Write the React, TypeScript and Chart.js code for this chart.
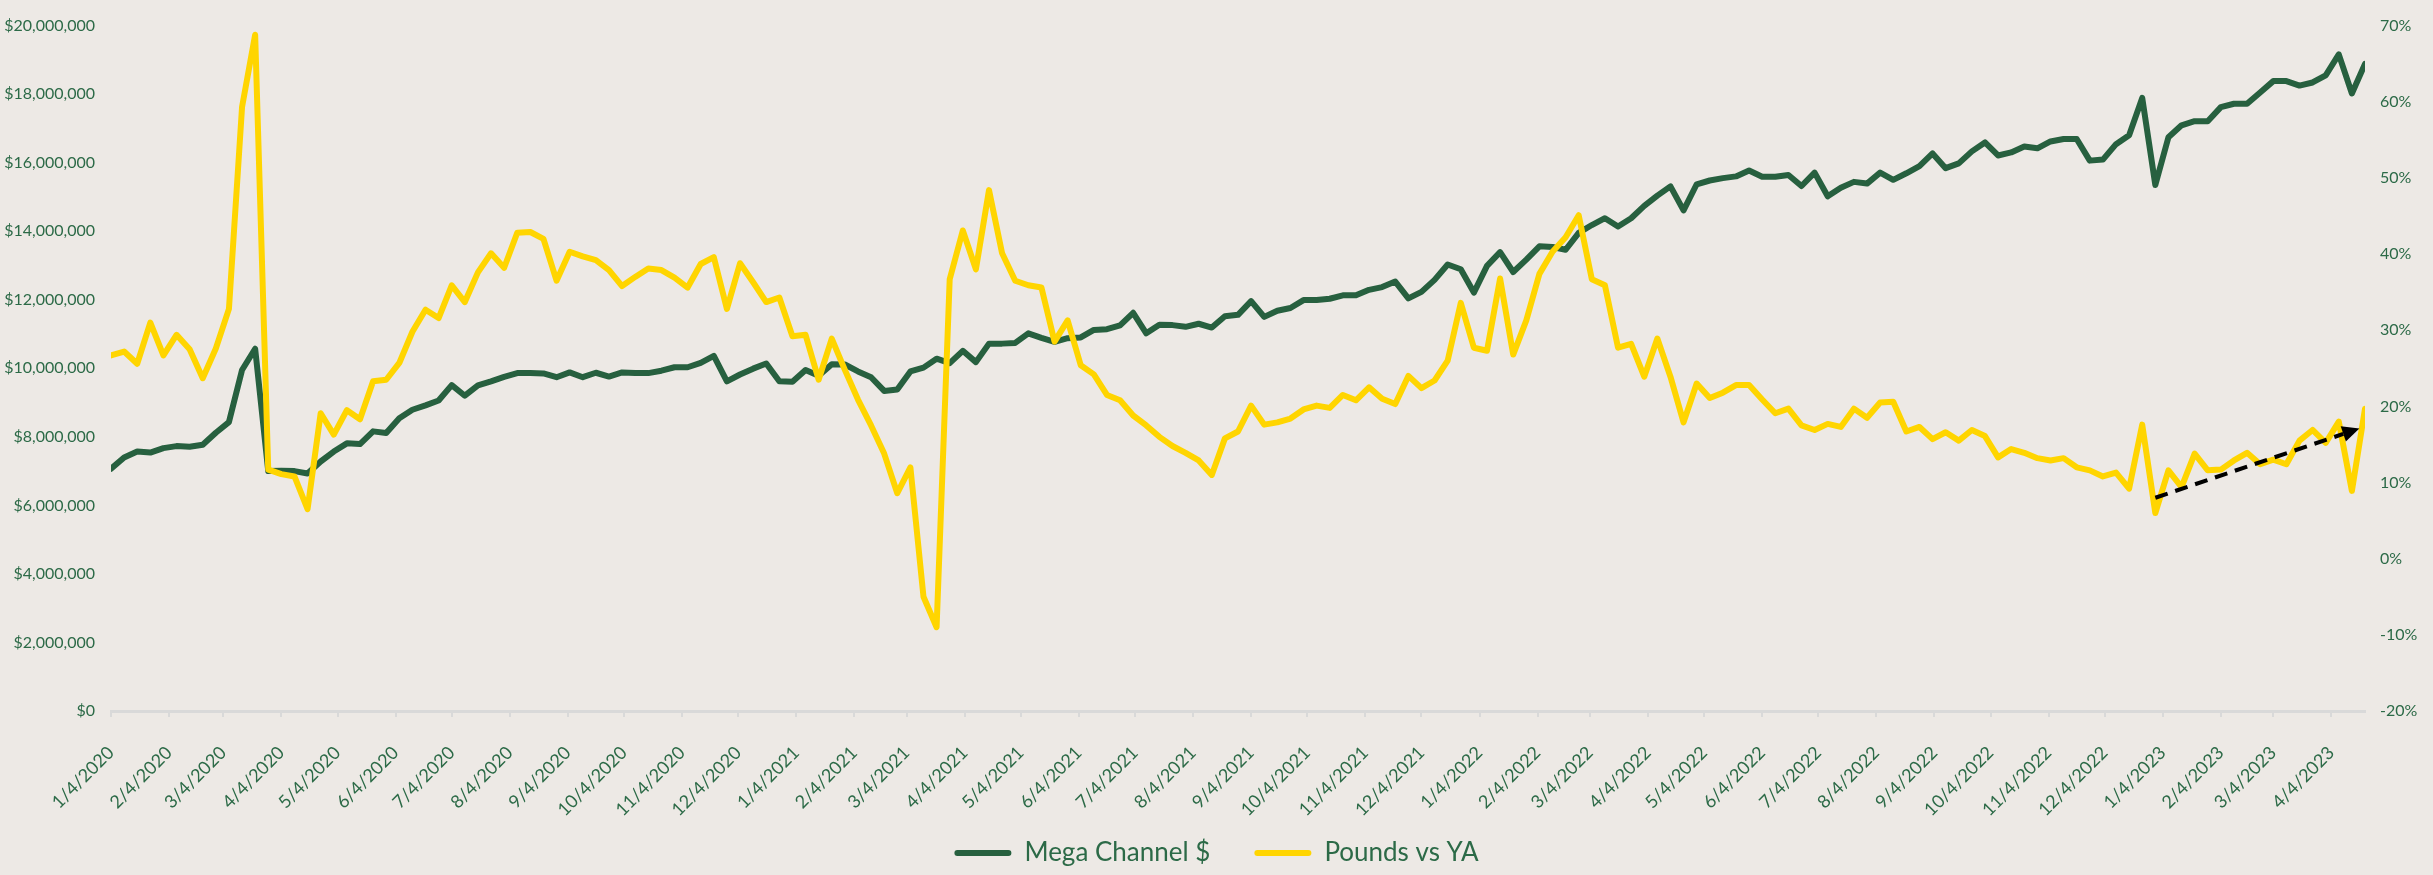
import React, { useEffect, useRef } from 'react';
import { Chart, registerables } from 'chart.js';

Chart.register(...registerables);

// ---------- DATA ----------
const FIRST_WEEK = '1/4/2020';
const WEEK_COUNT = 173;

// Mega Channel $ (millions of dollars), weekly
const megaChannel: number[] = [
  7.07, 7.40, 7.57, 7.54, 7.67, 7.73, 7.71, 7.77, 8.12, 8.43,
  9.95, 10.57, 7.00, 7.01, 7.00, 6.93, 7.28, 7.57, 7.81, 7.79,
  8.16, 8.11, 8.54, 8.79, 8.92, 9.06, 9.51, 9.20, 9.50, 9.62,
  9.75, 9.86, 9.86, 9.85, 9.74, 9.88, 9.74, 9.87, 9.76, 9.88,
  9.86, 9.86, 9.93, 10.03, 10.03, 10.16, 10.36, 9.62, 9.82, 9.99,
  10.14, 9.62, 9.61, 9.95, 9.78, 10.12, 10.11, 9.91, 9.74, 9.34,
  9.38, 9.91, 10.02, 10.28, 10.15, 10.51, 10.18, 10.72, 10.72, 10.74,
  11.02, 10.89, 10.77, 10.88, 10.90, 11.12, 11.14, 11.25, 11.62, 11.02,
  11.27, 11.26, 11.21, 11.30, 11.19, 11.52, 11.56, 11.96, 11.50, 11.68,
  11.76, 11.99, 11.99, 12.03, 12.13, 12.13, 12.29, 12.37, 12.53, 12.04,
  12.23, 12.58, 13.03, 12.89, 12.21, 12.99, 13.39, 12.81, 13.17, 13.56,
  13.54, 13.46, 13.95, 14.18, 14.38, 14.14, 14.38, 14.74, 15.04, 15.31,
  14.61, 15.37, 15.48, 15.55, 15.60, 15.77, 15.59, 15.59, 15.64, 15.32,
  15.71, 15.02, 15.27, 15.44, 15.39, 15.71, 15.50, 15.69, 15.90, 16.27,
  15.84, 15.98, 16.33, 16.59, 16.21, 16.30, 16.47, 16.42, 16.62, 16.69,
  16.69, 16.06, 16.09, 16.54, 16.80, 17.89, 15.35, 16.74, 17.09, 17.21,
  17.21, 17.62, 17.72, 17.72, 18.05, 18.38, 18.38, 18.25, 18.34, 18.55,
  19.16, 18.02, 18.88,
];

// Pounds vs YA (percent), weekly
const poundsVsYA: number[] = [
  26.7, 27.2, 25.6, 31.0, 26.7, 29.4, 27.5, 23.7, 27.6, 32.8,
  59.3, 68.8, 11.7, 11.1, 10.8, 6.5, 19.1, 16.3, 19.5, 18.3,
  23.3, 23.5, 25.7, 29.8, 32.7, 31.6, 35.9, 33.7, 37.6, 40.1,
  38.2, 42.8, 42.9, 42.0, 36.5, 40.3, 39.7, 39.2, 37.9, 35.8,
  37.0, 38.1, 37.9, 36.9, 35.6, 38.7, 39.6, 32.8, 38.8, 36.3,
  33.7, 34.3, 29.2, 29.4, 23.5, 28.9, 24.8, 20.9, 17.5, 13.8,
  8.6, 12.0, -5.0, -9.0, 36.7, 43.1, 38.0, 48.4, 40.1, 36.5,
  35.9, 35.6, 28.5, 31.3, 25.4, 24.2, 21.5, 20.8, 18.8, 17.5,
  16.0, 14.8, 13.9, 12.9, 11.0, 15.8, 16.7, 20.1, 17.6, 17.9,
  18.4, 19.6, 20.1, 19.8, 21.5, 20.8, 22.5, 21.0, 20.3, 24.0,
  22.4, 23.4, 26.0, 33.6, 27.7, 27.3, 36.8, 26.8, 31.3, 37.4,
  40.3, 42.2, 45.1, 36.7, 35.9, 27.7, 28.2, 23.9, 28.9, 23.9,
  17.9, 23.0, 21.1, 21.8, 22.8, 22.8, 20.9, 19.1, 19.7, 17.5,
  16.9, 17.7, 17.3, 19.7, 18.5, 20.5, 20.6, 16.7, 17.3, 15.7,
  16.6, 15.5, 16.9, 16.1, 13.3, 14.4, 13.9, 13.2, 12.9, 13.2,
  12.0, 11.6, 10.8, 11.3, 9.2, 17.6, 6.0, 11.6, 9.4, 13.8,
  11.6, 11.7, 12.9, 13.9, 12.4, 13.0, 12.4, 15.5, 16.9, 15.2,
  18.0, 8.9, 19.7,
];

// x-axis tick labels (monthly)
const tickLabels: string[] = [
  '1/4/2020', '2/4/2020', '3/4/2020', '4/4/2020', '5/4/2020', '6/4/2020',
  '7/4/2020', '8/4/2020', '9/4/2020', '10/4/2020', '11/4/2020', '12/4/2020',
  '1/4/2021', '2/4/2021', '3/4/2021', '4/4/2021', '5/4/2021', '6/4/2021',
  '7/4/2021', '8/4/2021', '9/4/2021', '10/4/2021', '11/4/2021', '12/4/2021',
  '1/4/2022', '2/4/2022', '3/4/2022', '4/4/2022', '5/4/2022', '6/4/2022',
  '7/4/2022', '8/4/2022', '9/4/2022', '10/4/2022', '11/4/2022', '12/4/2022',
  '1/4/2023', '2/4/2023', '3/4/2023', '4/4/2023',
];

// trend arrow annotation: [week date, percent]
const arrowFrom: [string, number] = ['12/31/2022', 8.0];
const arrowTo: [string, number] = ['4/19/2023', 17.1];

// ---------- HELPERS ----------
const DAY_MS = 86400000;
const parseDate = (s: string) => {
  const [m, d, y] = s.split('/').map(Number);
  return Date.UTC(y, m - 1, d);
};
const ORIGIN = parseDate(FIRST_WEEK);
const dayOf = (s: string) => Math.round((parseDate(s) - ORIGIN) / DAY_MS);

// weekly category days (0, 7, 14, ...)
const weekDays: number[] = Array.from({ length: WEEK_COUNT }, (_, i) => i * 7);
const tickDays = tickLabels.map(dayOf);
const labelByDay: Record<number, string> = {};
tickLabels.forEach((l, i) => (labelByDay[tickDays[i]] = l));

const GREEN = '#27603F';
const YELLOW = '#FFD500';
const TEXT = '#2C6A47';
const AXIS = '#D9D9D9';
const BG = '#EDE9E5';
const FONT = 'Lato';

const bgPlugin = {
  id: 'bg',
  beforeDraw(chart: any) {
    const { ctx, width, height } = chart;
    ctx.save();
    ctx.fillStyle = BG;
    ctx.fillRect(0, 0, width, height);
    ctx.restore();
  },
};

const arrowPlugin = {
  id: 'trendArrow',
  afterDatasetsDraw(chart: any) {
    const xs = chart.scales.x;
    const ys = chart.scales.y1;
    const x1 = xs.getPixelForValue(dayOf(arrowFrom[0]));
    const y1 = ys.getPixelForValue(arrowFrom[1]);
    const x2 = xs.getPixelForValue(dayOf(arrowTo[0]));
    const y2 = ys.getPixelForValue(arrowTo[1]);
    const ang = Math.atan2(y2 - y1, x2 - x1);
    const headLen = 17;
    const headHalf = 8;
    const bx = x2 - headLen * Math.cos(ang);
    const by = y2 - headLen * Math.sin(ang);
    const { ctx } = chart;
    ctx.save();
    ctx.strokeStyle = '#000';
    ctx.lineWidth = 4;
    ctx.setLineDash([13, 8]);
    ctx.beginPath();
    ctx.moveTo(x1, y1);
    ctx.lineTo(bx, by);
    ctx.stroke();
    ctx.setLineDash([]);
    ctx.fillStyle = '#000';
    ctx.beginPath();
    ctx.moveTo(x2, y2);
    ctx.lineTo(bx + headHalf * Math.sin(ang), by - headHalf * Math.cos(ang));
    ctx.lineTo(bx - headHalf * Math.sin(ang), by + headHalf * Math.cos(ang));
    ctx.closePath();
    ctx.fill();
    ctx.restore();
  },
};

export default function App() {
  const ref = useRef<HTMLCanvasElement | null>(null);

  useEffect(() => {
    document.body.style.margin = '0';
    document.body.style.background = BG;
    const canvas = ref.current;
    if (!canvas) return;

    const chart = new Chart(canvas, {
      type: 'line',
      data: {
        datasets: [
          {
            label: 'Mega Channel $',
            data: megaChannel.map((v, i) => ({ x: weekDays[i], y: v })),
            yAxisID: 'y',
            borderColor: GREEN,
            backgroundColor: GREEN,
            borderWidth: 6,
            pointRadius: 0,
            tension: 0,
            borderJoinStyle: 'round',
            borderCapStyle: 'round',
            order: 2,
          },
          {
            label: 'Pounds vs YA',
            data: poundsVsYA.map((v, i) => ({ x: weekDays[i], y: v })),
            yAxisID: 'y1',
            borderColor: YELLOW,
            backgroundColor: YELLOW,
            borderWidth: 6,
            pointRadius: 0,
            tension: 0,
            borderJoinStyle: 'round',
            borderCapStyle: 'round',
            order: 1,
          },
        ],
      } as any,
      options: {
        animation: false,
        responsive: false,
        devicePixelRatio: 1,
        layout: { padding: { top: 14, bottom: -1, left: 0, right: 0 } },
        plugins: {
          tooltip: { enabled: false },
          legend: {
            position: 'bottom',
            labels: {
              font: { family: FONT, size: 26 },
              color: TEXT,
              boxWidth: 57,
              boxHeight: 6,
              padding: 44,
              useBorderRadius: true,
              borderRadius: 3,
              generateLabels: (c: any) =>
                c.data.datasets.map((ds: any, i: number) => ({
                  text: ds.label,
                  fillStyle: ds.borderColor,
                  strokeStyle: ds.borderColor,
                  lineWidth: 0,
                  hidden: false,
                  datasetIndex: i,
                  fontColor: TEXT,
                  borderRadius: 3,
                })),
            },
          },
        },
        scales: {
          x: {
            type: 'linear',
            bounds: 'data',
            min: 0,
            max: weekDays[weekDays.length - 1],
            afterBuildTicks: (s: any) => {
              s.ticks = tickDays.map((v) => ({ value: v }));
            },
            afterFit: (s: any) => {
              s.height = 85;
              // let the rotated labels extend below the axis box without clipping
              s._computeLabelArea = () => undefined;
            },
            ticks: {
              autoSkip: false,
              minRotation: 45,
              maxRotation: 45,
              padding: 25,
              color: TEXT,
              font: { family: FONT, size: 18 },
              callback: (v: any) => labelByDay[v] ?? '',
            },
            grid: {
              display: true,
              drawOnChartArea: false,
              drawTicks: true,
              tickLength: 6,
              color: AXIS,
              lineWidth: 2,
            },
            border: { display: true, color: AXIS, width: 3 },
          },
          y: {
            type: 'linear',
            position: 'left',
            min: 0,
            max: 20,
            afterFit: (s: any) => {
              s.width = 111;
            },
            ticks: {
              stepSize: 2,
              padding: 16,
              color: TEXT,
              font: { family: FONT, size: 16 },
              callback: (v: any) => '$' + Math.round(Number(v) * 1e6).toLocaleString('en-US'),
            },
            grid: { display: false, drawTicks: false },
            border: { display: false },
          },
          y1: {
            type: 'linear',
            position: 'right',
            min: -20,
            max: 70,
            afterFit: (s: any) => {
              s.width = 68;
            },
            ticks: {
              stepSize: 10,
              padding: 15,
              color: TEXT,
              font: { family: FONT, size: 16 },
              callback: (v: any) => `${v}%`,
            },
            grid: { display: false, drawTicks: false },
            border: { display: false },
          },
        },
      } as any,
      plugins: [bgPlugin, arrowPlugin],
    });

    return () => chart.destroy();
  }, []);

  return (
    <div style={{ width: 2433, height: 875, background: BG }}>
      <canvas ref={ref} width={2433} height={875} style={{ display: 'block' }} />
    </div>
  );
}
